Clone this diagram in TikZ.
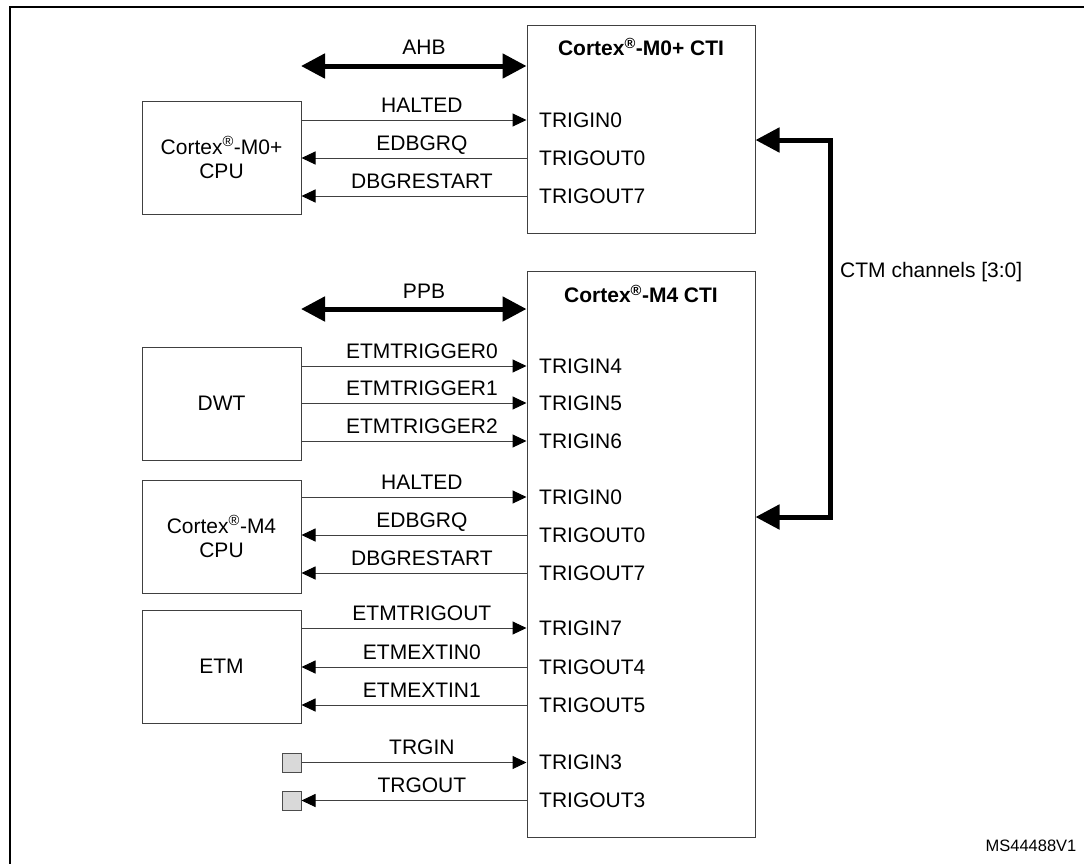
\documentclass[tikz,border=0pt]{standalone}
\usepackage{fontspec}
\setmainfont{Liberation Sans}
\usetikzlibrary{arrows.meta}
\begin{document}
\begin{tikzpicture}[x=1pt,y=-1pt,
  every node/.style={font=\fontsize{21}{24.5}\selectfont, text=black},
  blk/.style={draw=black!75, line width=1pt, rectangle, inner sep=0pt, align=center},
  sq/.style={draw=black!70, fill=black!15, line width=1pt, inner sep=0pt, minimum width=19pt, minimum height=19pt},
  sig/.style={draw=black!75, line width=1pt, -{Triangle[length=14pt,width=13pt,color=black]}},
  sigl/.style={draw=black!75, line width=1pt, {Triangle[length=14pt,width=13pt,color=black]}-},
  bus/.style={line width=5pt, line join=miter, {Triangle[length=24pt,width=24pt]}-{Triangle[length=24pt,width=24pt]}},
  port/.style={anchor=west, inner sep=0pt, text height=15pt, text depth=0pt},
  lbl/.style={anchor=base, inner sep=0pt, yshift=8pt, pos=0.535},
  ttl/.style={font=\bfseries\fontsize{21}{24.5}\selectfont}
]
\useasboundingbox (0,0) rectangle (1084,863);
% frame
\draw[line width=2.5pt] (1090,7) -- (10,7) -- (10,870);

% CTI blocks
\node[blk, minimum width=228pt, minimum height=208pt] (m0cti) at (641,129) {};
\node[blk, minimum width=228pt, minimum height=566pt] (m4cti) at (641,554) {};
\node[ttl] (m0t) at (641,47) {Cortex\textsuperscript{\textregistered}-M0+ CTI};
\node[ttl] (m4t) at (641,294) {Cortex\textsuperscript{\textregistered}-M4 CTI};

% left blocks
\node[blk, minimum width=159pt, minimum height=113pt] (m0cpu) at (221.5,157.5) {Cortex\textsuperscript{\textregistered}-M0+\\CPU};
\node[blk, minimum width=159pt, minimum height=113pt] (dwt) at (221.5,403.5) {DWT};
\node[blk, minimum width=159pt, minimum height=113pt] (m4cpu) at (221.5,536.5) {Cortex\textsuperscript{\textregistered}-M4\\CPU};
\node[blk, minimum width=159pt, minimum height=113pt] (etm) at (221.5,666.5) {ETM};
\node[sq] (sqa) at (291.5,762.5) {};
\node[sq] (sqb) at (291.5,800.5) {};

% rows
\foreach \n/\y in {r1/120,r2/158,r3/196,r4/366,r5/403,r6/441,r7/497,r8/535,r9/573,r10/628,r11/667,r12/705,r13/762,r14/800}
  \coordinate (\n) at (0,\y);

% port labels
\node[port] (p1) at (539,120) {TRIGIN0};
\node[port] (p2) at (539,158) {TRIGOUT0};
\node[port] (p3) at (539,196) {TRIGOUT7};
\node[port] (p4) at (539,366) {TRIGIN4};
\node[port] (p5) at (539,403) {TRIGIN5};
\node[port] (p6) at (539,441) {TRIGIN6};
\node[port] (p7) at (539,497) {TRIGIN0};
\node[port] (p8) at (539,535) {TRIGOUT0};
\node[port] (p9) at (539,573) {TRIGOUT7};
\node[port] (p10) at (539,628) {TRIGIN7};
\node[port] (p11) at (539,667) {TRIGOUT4};
\node[port] (p12) at (539,705) {TRIGOUT5};
\node[port] (p13) at (539,762) {TRIGIN3};
\node[port] (p14) at (539,800) {TRIGOUT3};

% signals M0+
\draw[sig] (m0cpu.east |- r1) -- node[lbl] {HALTED} (m0cti.west |- r1);
\draw[sigl] (m0cpu.east |- r2) -- node[lbl] {EDBGRQ} (m0cti.west |- r2);
\draw[sigl] (m0cpu.east |- r3) -- node[lbl] {DBGRESTART} (m0cti.west |- r3);
% DWT
\draw[sig] (dwt.east |- r4) -- node[lbl] {ETMTRIGGER0} (m4cti.west |- r4);
\draw[sig] (dwt.east |- r5) -- node[lbl] {ETMTRIGGER1} (m4cti.west |- r5);
\draw[sig] (dwt.east |- r6) -- node[lbl] {ETMTRIGGER2} (m4cti.west |- r6);
% M4 CPU
\draw[sig] (m4cpu.east |- r7) -- node[lbl] {HALTED} (m4cti.west |- r7);
\draw[sigl] (m4cpu.east |- r8) -- node[lbl] {EDBGRQ} (m4cti.west |- r8);
\draw[sigl] (m4cpu.east |- r9) -- node[lbl] {DBGRESTART} (m4cti.west |- r9);
% ETM
\draw[sig] (etm.east |- r10) -- node[lbl] {ETMTRIGOUT} (m4cti.west |- r10);
\draw[sigl] (etm.east |- r11) -- node[lbl] {ETMEXTIN0} (m4cti.west |- r11);
\draw[sigl] (etm.east |- r12) -- node[lbl] {ETMEXTIN1} (m4cti.west |- r12);
% external
\draw[sig] (sqa.east) -- node[lbl] {TRGIN} (m4cti.west |- sqa.east);
\draw[sigl] (sqb.east) -- node[lbl] {TRGOUT} (m4cti.west |- sqb.east);

% buses
\coordinate (ahb) at (301,66);
\coordinate (ppb) at (301,309);
\draw[bus] (ahb) -- (m0cti.west |- ahb);
\draw[bus] (ppb) -- (m4cti.west |- ppb);
\node (ahbl) at (424,47) {AHB};
\node (ppbl) at (424,291) {PPB};

% CTM channels
\coordinate (ca) at (830,140);
\coordinate (cb) at (830,517);
\draw[bus] (m0cti.east |- ca) -- (ca) -- (cb) -- (m4cti.east |- cb);
\node[anchor=west, inner sep=0pt] (ctm) at (840,272) {CTM channels [3:0]};

\node[font=\fontsize{16.5}{20}\selectfont, inner sep=0pt] (ms) at (1031,846) {MS44488V1};
\end{tikzpicture}
\end{document}
